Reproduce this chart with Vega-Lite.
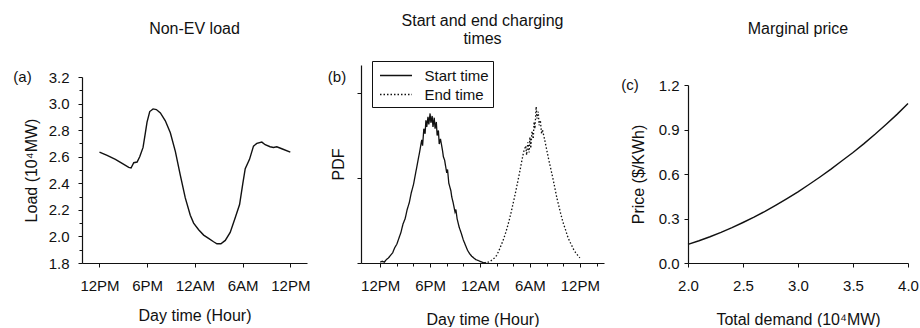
{
  "$schema": "https://vega.github.io/schema/vega-lite/v6.json",
  "padding": {"left": 13, "top": 12, "right": 0, "bottom": 0},
  "background": "white",
  "spacing": 17,
  "resolve": {"legend": {"strokeDash": "independent"}},
  "config": {
    "font": "Liberation Sans",
    "view": {"stroke": null},
    "axis": {"grid": false, "domainColor": "#111", "tickColor": "#111", "labelColor": "#111", "titleColor": "#111", "labelFontSize": 15, "titleFontSize": 16, "titleFontWeight": "normal", "tickSize": 4, "labelFont": "Liberation Sans", "titleFont": "Liberation Sans", "domainWidth": 1.2, "labelOverlap": false, "labelFlush": false},
    "title": {"fontSize": 16, "fontWeight": "normal", "color": "#111", "frame": "group", "anchor": "middle", "font": "Liberation Sans"},
    "text": {"font": "Liberation Sans"}
  },
  "datasets": {
    "load": [
      {"hour": 0, "load": 2.635}, {"hour": 0.96, "load": 2.61}, {"hour": 2.0, "load": 2.58}, {"hour": 2.85, "load": 2.55},
      {"hour": 3.68, "load": 2.52}, {"hour": 3.97, "load": 2.515}, {"hour": 4.31, "load": 2.555}, {"hour": 4.73, "load": 2.56},
      {"hour": 5.06, "load": 2.6}, {"hour": 5.48, "load": 2.67}, {"hour": 5.77, "load": 2.78}, {"hour": 5.98, "load": 2.86},
      {"hour": 6.32, "load": 2.94}, {"hour": 6.74, "load": 2.96}, {"hour": 7.15, "load": 2.955}, {"hour": 7.66, "load": 2.93},
      {"hour": 8.28, "load": 2.87}, {"hour": 8.91, "load": 2.78}, {"hour": 9.54, "load": 2.64}, {"hour": 10.17, "load": 2.46},
      {"hour": 10.79, "load": 2.29}, {"hour": 11.42, "load": 2.16}, {"hour": 11.84, "load": 2.1}, {"hour": 12.47, "load": 2.05},
      {"hour": 13.1, "load": 2.01}, {"hour": 13.72, "load": 1.985}, {"hour": 14.35, "load": 1.96}, {"hour": 14.77, "load": 1.945},
      {"hour": 15.27, "load": 1.945}, {"hour": 15.82, "load": 1.97}, {"hour": 16.44, "load": 2.03}, {"hour": 17.07, "load": 2.14},
      {"hour": 17.62, "load": 2.24}, {"hour": 18.03, "load": 2.4}, {"hour": 18.33, "load": 2.51}, {"hour": 18.87, "load": 2.58},
      {"hour": 19.37, "load": 2.68}, {"hour": 19.79, "load": 2.7}, {"hour": 20.42, "load": 2.71}, {"hour": 20.84, "load": 2.69},
      {"hour": 21.46, "load": 2.675}, {"hour": 21.88, "load": 2.67}, {"hour": 22.3, "load": 2.675}, {"hour": 22.93, "load": 2.66},
      {"hour": 24.0, "load": 2.635}
    ],
    "pdf": [
      {"series": "Start time", "hour": 0.0, "pdf": 0.001}, {"series": "Start time", "hour": 0.25, "pdf": 0.002}, {"series": "Start time", "hour": 0.5, "pdf": 0.001},
      {"series": "Start time", "hour": 0.75, "pdf": 0.004}, {"series": "Start time", "hour": 1.0, "pdf": 0.006}, {"series": "Start time", "hour": 1.25, "pdf": 0.009},
      {"series": "Start time", "hour": 1.5, "pdf": 0.012}, {"series": "Start time", "hour": 1.75, "pdf": 0.018}, {"series": "Start time", "hour": 2.0, "pdf": 0.022},
      {"series": "Start time", "hour": 2.25, "pdf": 0.029}, {"series": "Start time", "hour": 2.5, "pdf": 0.036}, {"series": "Start time", "hour": 2.75, "pdf": 0.046},
      {"series": "Start time", "hour": 3.0, "pdf": 0.052}, {"series": "Start time", "hour": 3.25, "pdf": 0.063}, {"series": "Start time", "hour": 3.5, "pdf": 0.071},
      {"series": "Start time", "hour": 3.75, "pdf": 0.083}, {"series": "Start time", "hour": 4.0, "pdf": 0.092}, {"series": "Start time", "hour": 4.25, "pdf": 0.105},
      {"series": "Start time", "hour": 4.5, "pdf": 0.118}, {"series": "Start time", "hour": 4.75, "pdf": 0.131}, {"series": "Start time", "hour": 5.0, "pdf": 0.145},
      {"series": "Start time", "hour": 5.1, "pdf": 0.138}, {"series": "Start time", "hour": 5.25, "pdf": 0.158}, {"series": "Start time", "hour": 5.4, "pdf": 0.152},
      {"series": "Start time", "hour": 5.5, "pdf": 0.168}, {"series": "Start time", "hour": 5.6, "pdf": 0.16}, {"series": "Start time", "hour": 5.75, "pdf": 0.172},
      {"series": "Start time", "hour": 5.85, "pdf": 0.163}, {"series": "Start time", "hour": 6.0, "pdf": 0.176}, {"series": "Start time", "hour": 6.1, "pdf": 0.165},
      {"series": "Start time", "hour": 6.25, "pdf": 0.173}, {"series": "Start time", "hour": 6.35, "pdf": 0.16}, {"series": "Start time", "hour": 6.5, "pdf": 0.171},
      {"series": "Start time", "hour": 6.6, "pdf": 0.158}, {"series": "Start time", "hour": 6.75, "pdf": 0.166}, {"series": "Start time", "hour": 6.85, "pdf": 0.15},
      {"series": "Start time", "hour": 7.0, "pdf": 0.156}, {"series": "Start time", "hour": 7.1, "pdf": 0.14}, {"series": "Start time", "hour": 7.25, "pdf": 0.146},
      {"series": "Start time", "hour": 7.5, "pdf": 0.132}, {"series": "Start time", "hour": 7.6, "pdf": 0.125}, {"series": "Start time", "hour": 7.75, "pdf": 0.121},
      {"series": "Start time", "hour": 8.0, "pdf": 0.106}, {"series": "Start time", "hour": 8.1, "pdf": 0.11}, {"series": "Start time", "hour": 8.25, "pdf": 0.094},
      {"series": "Start time", "hour": 8.5, "pdf": 0.085}, {"series": "Start time", "hour": 8.6, "pdf": 0.078}, {"series": "Start time", "hour": 8.75, "pdf": 0.072},
      {"series": "Start time", "hour": 9.0, "pdf": 0.06}, {"series": "Start time", "hour": 9.1, "pdf": 0.063}, {"series": "Start time", "hour": 9.25, "pdf": 0.052},
      {"series": "Start time", "hour": 9.5, "pdf": 0.042}, {"series": "Start time", "hour": 9.75, "pdf": 0.035}, {"series": "Start time", "hour": 10.0, "pdf": 0.027},
      {"series": "Start time", "hour": 10.25, "pdf": 0.021}, {"series": "Start time", "hour": 10.5, "pdf": 0.015}, {"series": "Start time", "hour": 10.75, "pdf": 0.011},
      {"series": "Start time", "hour": 11.0, "pdf": 0.008}, {"series": "Start time", "hour": 11.25, "pdf": 0.006}, {"series": "Start time", "hour": 11.5, "pdf": 0.004},
      {"series": "Start time", "hour": 11.75, "pdf": 0.003}, {"series": "Start time", "hour": 12.0, "pdf": 0.002}, {"series": "Start time", "hour": 12.25, "pdf": 0.001},
      {"series": "Start time", "hour": 12.5, "pdf": 0.0}, {"series": "Start time", "hour": 12.75, "pdf": 0.0},
      {"series": "End time", "hour": 12.5, "pdf": 0.0}, {"series": "End time", "hour": 12.75, "pdf": 0.001}, {"series": "End time", "hour": 13.0, "pdf": 0.001},
      {"series": "End time", "hour": 13.25, "pdf": 0.002}, {"series": "End time", "hour": 13.5, "pdf": 0.004}, {"series": "End time", "hour": 13.75, "pdf": 0.006},
      {"series": "End time", "hour": 14.0, "pdf": 0.009}, {"series": "End time", "hour": 14.25, "pdf": 0.014}, {"series": "End time", "hour": 14.5, "pdf": 0.02},
      {"series": "End time", "hour": 14.75, "pdf": 0.026}, {"series": "End time", "hour": 15.0, "pdf": 0.033}, {"series": "End time", "hour": 15.25, "pdf": 0.041},
      {"series": "End time", "hour": 15.5, "pdf": 0.05}, {"series": "End time", "hour": 15.75, "pdf": 0.06}, {"series": "End time", "hour": 16.0, "pdf": 0.071},
      {"series": "End time", "hour": 16.25, "pdf": 0.082}, {"series": "End time", "hour": 16.5, "pdf": 0.094}, {"series": "End time", "hour": 16.75, "pdf": 0.106},
      {"series": "End time", "hour": 17.0, "pdf": 0.119}, {"series": "End time", "hour": 17.25, "pdf": 0.131}, {"series": "End time", "hour": 17.5, "pdf": 0.138},
      {"series": "End time", "hour": 17.6, "pdf": 0.127}, {"series": "End time", "hour": 17.75, "pdf": 0.142}, {"series": "End time", "hour": 17.9, "pdf": 0.13},
      {"series": "End time", "hour": 18.0, "pdf": 0.148}, {"series": "End time", "hour": 18.1, "pdf": 0.135}, {"series": "End time", "hour": 18.25, "pdf": 0.155},
      {"series": "End time", "hour": 18.4, "pdf": 0.146}, {"series": "End time", "hour": 18.5, "pdf": 0.166}, {"series": "End time", "hour": 18.6, "pdf": 0.158},
      {"series": "End time", "hour": 18.75, "pdf": 0.184}, {"series": "End time", "hour": 18.85, "pdf": 0.17}, {"series": "End time", "hour": 19.0, "pdf": 0.178},
      {"series": "End time", "hour": 19.1, "pdf": 0.162}, {"series": "End time", "hour": 19.25, "pdf": 0.168}, {"series": "End time", "hour": 19.4, "pdf": 0.152},
      {"series": "End time", "hour": 19.5, "pdf": 0.157}, {"series": "End time", "hour": 19.75, "pdf": 0.146}, {"series": "End time", "hour": 20.0, "pdf": 0.134},
      {"series": "End time", "hour": 20.25, "pdf": 0.122}, {"series": "End time", "hour": 20.5, "pdf": 0.111}, {"series": "End time", "hour": 20.75, "pdf": 0.1},
      {"series": "End time", "hour": 21.0, "pdf": 0.088}, {"series": "End time", "hour": 21.25, "pdf": 0.076}, {"series": "End time", "hour": 21.5, "pdf": 0.066},
      {"series": "End time", "hour": 21.75, "pdf": 0.056}, {"series": "End time", "hour": 22.0, "pdf": 0.047}, {"series": "End time", "hour": 22.25, "pdf": 0.04},
      {"series": "End time", "hour": 22.5, "pdf": 0.032}, {"series": "End time", "hour": 22.75, "pdf": 0.026}, {"series": "End time", "hour": 23.0, "pdf": 0.021},
      {"series": "End time", "hour": 23.25, "pdf": 0.016}, {"series": "End time", "hour": 23.5, "pdf": 0.012}, {"series": "End time", "hour": 23.75, "pdf": 0.009},
      {"series": "End time", "hour": 24.0, "pdf": 0.006}
    ],
    "price": [
      {"demand": 2.0, "price": 0.125}, {"demand": 2.1, "price": 0.15}, {"demand": 2.2, "price": 0.177}, {"demand": 2.3, "price": 0.206},
      {"demand": 2.4, "price": 0.238}, {"demand": 2.5, "price": 0.273}, {"demand": 2.6, "price": 0.309}, {"demand": 2.7, "price": 0.348},
      {"demand": 2.8, "price": 0.39}, {"demand": 2.9, "price": 0.434}, {"demand": 3.0, "price": 0.48}, {"demand": 3.1, "price": 0.529},
      {"demand": 3.2, "price": 0.58}, {"demand": 3.3, "price": 0.633}, {"demand": 3.4, "price": 0.689}, {"demand": 3.5, "price": 0.745},
      {"demand": 3.6, "price": 0.805}, {"demand": 3.7, "price": 0.868}, {"demand": 3.8, "price": 0.934}, {"demand": 3.9, "price": 1.002},
      {"demand": 4.0, "price": 1.075}
    ]
  },
  "hconcat": [
    {
      "width": 225,
      "height": 198,
      "title": {"text": "Non-EV load", "offset": 28.5},
      "resolve": {"axis": {"y": "independent"}},
      "layer": [
        {
          "data": {"name": "load"},
          "mark": {"type": "line", "color": "#111", "strokeWidth": 1.4},
          "encoding": {
            "x": {"field": "hour", "type": "quantitative", "scale": {"domain": [-2.2, 26.1], "nice": false, "zero": false},
              "axis": {"values": [0, 3, 6, 9, 12, 15, 18, 21, 24], "labelOverlap": false, "labelExpr": "datum.value % 6 === 0 ? ['12PM','6PM','12AM','6AM','12PM'][datum.value/6] : ''", "title": "Day time (Hour)", "labelPadding": 11, "titlePadding": 14}},
            "y": {"field": "load", "type": "quantitative", "scale": {"domain": [1.8, 3.2], "range": [198, 12], "nice": false, "zero": false},
              "axis": {"values": [1.8, 2.0, 2.2, 2.4, 2.6, 2.8, 3.0, 3.2], "format": ".1f", "labelOverlap": false, "title": "Load (10⁴MW)", "labelPadding": 9, "titlePadding": 9}}
          }
        },
        {
          "data": {"values": [{"label": "(a)"}]},
          "mark": {"type": "text", "dx": -59.5, "fontSize": 15, "align": "center", "baseline": "middle", "color": "#111"},
          "encoding": {
            "x": {"datum": -2.2, "type": "quantitative"},
            "y": {"datum": 3.2, "type": "quantitative", "axis": {"orient": "left", "values": [1.9, 2.1, 2.3, 2.5, 2.7, 2.9, 3.1], "labels": false, "title": null, "domain": false, "tickSize": 3}},
            "text": {"field": "label"}
          }
        }
      ]
    },
    {
      "width": 243,
      "height": 198,
      "title": {"text": ["Start and end charging", "times"], "offset": 14, "lineHeight": 18},
      "resolve": {"axis": {"x": "independent"}},
      "layer": [
        {
          "data": {"name": "pdf"},
          "mark": {"type": "line", "color": "#111", "strokeWidth": 1.3},
          "encoding": {
            "x": {"field": "hour", "type": "quantitative", "scale": {"domain": [-2.3, 26.9], "nice": false, "zero": false},
              "axis": {"values": [0, 6, 12, 18, 24], "labelOverlap": false, "labelExpr": "['12PM','6PM','12AM','6AM','12PM'][round(datum.value/6)]", "title": "Day time (Hour)", "labelPadding": 11, "titlePadding": 18}},
            "y": {"field": "pdf", "type": "quantitative", "scale": {"domain": [0, 0.233], "range": [198, 0], "nice": false, "zero": false},
              "axis": {"values": [0, 0.1, 0.2], "labels": false, "title": "PDF", "titlePadding": 10}},
            "strokeDash": {"field": "series", "type": "nominal",
              "scale": {"domain": ["Start time", "End time"], "range": [[1, 0], [1.5, 2]]},
              "legend": {"title": null, "orient": "none", "legendX": 11, "legendY": -4, "strokeColor": "#111", "fillColor": "white", "padding": 4, "symbolType": "M-1.684,0H1.684", "symbolSize": 361, "symbolOffset": 9.5, "symbolStrokeWidth": 1.4, "symbolStrokeColor": "#111", "labelFontSize": 15, "labelColor": "#111", "labelOffset": 18, "rowPadding": 0, "labelFont": "Liberation Sans"}}
          }
        },
        {
          "data": {"values": [{"label": "(b)"}]},
          "mark": {"type": "text", "dx": -24, "fontSize": 15, "align": "center", "baseline": "middle", "color": "#111"},
          "encoding": {
            "x": {"datum": -2.3, "type": "quantitative", "axis": {"orient": "bottom", "values": [2, 4, 8, 10, 14, 16, 20, 22, 26], "labels": false, "title": null, "domain": false, "tickSize": 3}},
            "y": {"datum": 0.219, "type": "quantitative"},
            "text": {"field": "label"}
          }
        }
      ]
    },
    {
      "width": 220,
      "height": 198,
      "title": {"text": "Marginal price", "offset": 28},
      "layer": [
        {
          "data": {"name": "price"},
          "mark": {"type": "line", "color": "#111", "strokeWidth": 1.4},
          "encoding": {
            "x": {"field": "demand", "type": "quantitative", "scale": {"domain": [2, 4], "nice": false, "zero": false},
              "axis": {"values": [2, 2.25, 2.5, 2.75, 3, 3.25, 3.5, 3.75, 4], "labelOverlap": false, "labelExpr": "round(datum.value*4) % 2 === 0 ? format(datum.value, '.1f') : ''", "title": "Total demand (10⁴MW)", "labelPadding": 11, "titlePadding": 18}},
            "y": {"field": "price", "type": "quantitative", "scale": {"domain": [0, 1.2], "range": [198, 20], "nice": false, "zero": false},
              "axis": {"values": [0, 0.15, 0.3, 0.45, 0.6, 0.75, 0.9, 1.05, 1.2], "labelOverlap": false, "labelExpr": "round(datum.value/0.15) % 2 === 0 ? format(datum.value, '.1f') : ''", "title": "Price ($/KWh)", "labelPadding": 5, "titlePadding": 12}}
          }
        },
        {
          "data": {"values": [{"label": "(c)"}]},
          "mark": {"type": "text", "dx": -58, "fontSize": 15, "align": "center", "baseline": "middle", "color": "#111"},
          "encoding": {"x": {"datum": 2, "type": "quantitative"}, "y": {"datum": 1.2, "type": "quantitative"}, "text": {"field": "label"}}
        }
      ]
    }
  ]
}
